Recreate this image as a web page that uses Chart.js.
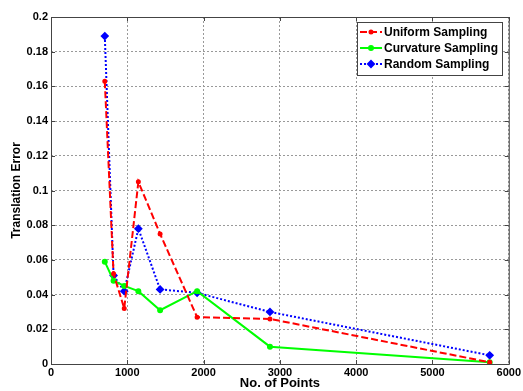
<!DOCTYPE html>
<html>
<head>
<meta charset="utf-8">
<script src="https://cdn.jsdelivr.net/npm/chart.js@4.4.0/dist/chart.umd.min.js"></script>
<style>
  html, body { margin: 0; padding: 0; background: #fff; }
  #wrap { width: 523px; height: 391px; }
</style>
</head>
<body>
<div id="wrap"><canvas id="mycanvas" width="523" height="391"></canvas></div>
<script>
// number of points per sampling run
var numPoints = [705, 820, 960, 1145, 1430, 1915, 2870, 5750];

var uniformErr   = [0.163, 0.052, 0.032, 0.105, 0.075, 0.027, 0.026, 0.001];
var curvatureErr = [0.059, 0.048, 0.045, 0.042, 0.031, 0.042, 0.010, 0.001];
var randomErr    = [0.189, 0.051, 0.042, 0.078, 0.043, 0.041, 0.030, 0.005];

var seriesNames = ['Uniform Sampling', 'Curvature Sampling', 'Random Sampling'];

var xTicks = [0, 1000, 2000, 3000, 4000, 5000, 6000];
var yTicks = [0, 0.02, 0.04, 0.06, 0.08, 0.1, 0.12, 0.14, 0.16, 0.18, 0.2];

function toPoints(ys) {
    var pts = [];
    for (var i in ys) {
        pts.push({x: numPoints[i], y: ys[i]});
    }
    return pts;
}

var FONT = '"Liberation Sans", Arial, sans-serif';

var chartdata = {
    datasets: [
        {
            label: seriesNames[0],
            data: toPoints(uniformErr),
            borderColor: '#ff0000',
            backgroundColor: '#ff0000',
            borderWidth: 2,
            borderDash: [7, 3],
            pointStyle: 'circle',
            pointRadius: 1.5,
            showLine: true
        },
        {
            label: seriesNames[1],
            data: toPoints(curvatureErr),
            borderColor: '#00ff00',
            backgroundColor: '#00ff00',
            borderWidth: 2,
            pointStyle: 'circle',
            pointRadius: 2,
            showLine: true
        },
        {
            label: seriesNames[2],
            data: toPoints(randomErr),
            borderColor: '#0000ff',
            backgroundColor: '#0000ff',
            borderWidth: 2,
            borderDash: [2, 2],
            pointStyle: 'rectRot',
            pointRadius: 3,
            showLine: true
        }
    ]
};

// frame around the plot + legend box in the top right corner
var framePlugin = {
    id: 'frame',
    afterDraw: function(chart) {
        var ctx = chart.ctx;
        var a = chart.chartArea;
        ctx.save();
        ctx.setLineDash([]);
        ctx.strokeStyle = '#444';
        ctx.lineWidth = 1;
        ctx.strokeRect(a.left + 0.5, a.top + 0.5, a.right - a.left, a.bottom - a.top);

        // inward tick marks
        var xs = chart.scales.x, ys = chart.scales.y;
        ctx.beginPath();
        xTicks.forEach(function(v) {
            var px = Math.round(xs.getPixelForValue(v)) + 0.5;
            ctx.moveTo(px, a.bottom); ctx.lineTo(px, a.bottom - 4);
            ctx.moveTo(px, a.top); ctx.lineTo(px, a.top + 4);
        });
        yTicks.forEach(function(v) {
            var py = Math.round(ys.getPixelForValue(v)) + 0.5;
            ctx.moveTo(a.left, py); ctx.lineTo(a.left + 4, py);
            ctx.moveTo(a.right, py); ctx.lineTo(a.right - 4, py);
        });
        ctx.stroke();

        // legend
        var bx = 357, by = 22, bw = 145, bh = 53;
        ctx.fillStyle = '#fff';
        ctx.fillRect(bx, by, bw, bh);
        ctx.strokeStyle = '#444';
        ctx.strokeRect(bx + 0.5, by + 0.5, bw, bh);
        ctx.font = 'bold 12px ' + FONT;
        ctx.textBaseline = 'middle';
        chart.data.datasets.forEach(function(ds, i) {
            var y = by + 10 + i * 16;
            ctx.strokeStyle = ds.borderColor;
            ctx.lineWidth = 2;
            ctx.setLineDash(ds.borderDash || []);
            ctx.beginPath();
            ctx.moveTo(bx + 3, y);
            ctx.lineTo(bx + 25, y);
            ctx.stroke();
            ctx.setLineDash([]);
            Chart.helpers.drawPoint(ctx, {
                pointStyle: ds.pointStyle,
                radius: ds.pointRadius,
                borderWidth: 1,
                rotation: 0
            }, bx + 14, y);
            ctx.fillStyle = ds.backgroundColor;
            ctx.fill();
            ctx.fillStyle = '#000';
            ctx.textAlign = 'left';
            ctx.fillText(ds.label, bx + 27, y + 1);
        });
        ctx.restore();
    }
};

var ctx = document.getElementById('mycanvas');

var lineGraph = new Chart(ctx, {
    type: 'scatter',
    data: chartdata,
    plugins: [framePlugin],
    options: {
        responsive: false,
        animation: false,
        layout: { padding: { top: 17, right: 12, left: 9, bottom: 0 } },
        plugins: {
            legend: { display: false },
            tooltip: { enabled: false }
        },
        scales: {
            x: {
                type: 'linear',
                min: 0,
                max: 6000,
                afterBuildTicks: function(axis) {
                    axis.ticks = xTicks.map(function(v) { return {value: v}; });
                },
                afterFit: function(axis) { axis.height = 27; },
                grid: { color: '#999', drawTicks: false, lineWidth: 1 },
                border: { display: false, dash: [2, 2] },
                ticks: {
                    color: '#000',
                    padding: 2,
                    font: { family: FONT, size: 11, weight: 'bold' },
                    callback: function(v) { return String(v); }
                },
                title: {
                    display: true,
                    text: 'No. of Points',
                    color: '#000',
                    padding: 0,
                    font: { family: FONT, size: 13, weight: 'bold' }
                }
            },
            y: {
                type: 'linear',
                min: 0,
                max: 0.2,
                afterBuildTicks: function(axis) {
                    axis.ticks = yTicks.map(function(v) { return {value: v}; });
                },
                afterFit: function(axis) { axis.width = 42; },
                grid: { color: '#999', drawTicks: false, lineWidth: 1 },
                border: { display: false, dash: [2, 2] },
                ticks: {
                    color: '#000',
                    padding: 3,
                    font: { family: FONT, size: 11, weight: 'bold' },
                    callback: function(v) { return String(Number(v.toFixed(2))); }
                },
                title: {
                    display: true,
                    text: 'Translation Error',
                    color: '#000',
                    padding: 0,
                    font: { family: FONT, size: 12, weight: 'bold' }
                }
            }
        }
    }
});
</script>
</body>
</html>
